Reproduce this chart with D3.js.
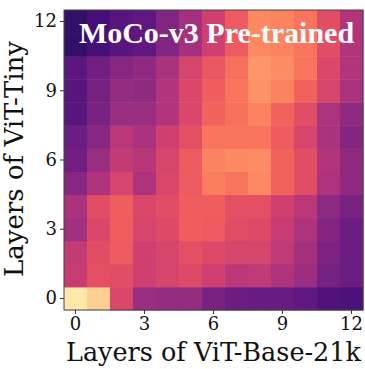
<!DOCTYPE html>
<html>
<head>
<meta charset="utf-8">
<script src="https://cdn.jsdelivr.net/npm/d3@7"></script>
<style>
  body { margin: 0; background: #fff; }
  svg { display: block; }
</style>
</head>
<body>
<div id="chart"></div>
<script>
// layer indices
var baseLayers = d3.range(13)   // ViT-Base-21k, x
var tinyLayers = d3.range(13)   // ViT-Tiny, y
var tickLabels = [0, 3, 6, 9, 12]
var title = "MoCo-v3 Pre-trained"

// similarity, one row per ViT-Tiny layer (row 0 first), columns = ViT-Base layers
var cka = [
    [0.95, 0.90, 0.59, 0.43, 0.42, 0.42, 0.35, 0.32, 0.31, 0.31, 0.29, 0.25, 0.24],
    [0.54, 0.62, 0.61, 0.56, 0.58, 0.60, 0.56, 0.51, 0.52, 0.48, 0.44, 0.34, 0.32],
    [0.53, 0.61, 0.65, 0.56, 0.58, 0.62, 0.60, 0.58, 0.58, 0.52, 0.46, 0.36, 0.32],
    [0.45, 0.59, 0.66, 0.58, 0.60, 0.66, 0.65, 0.61, 0.60, 0.54, 0.48, 0.38, 0.32],
    [0.47, 0.61, 0.66, 0.59, 0.61, 0.66, 0.66, 0.62, 0.62, 0.56, 0.51, 0.40, 0.35],
    [0.39, 0.48, 0.58, 0.48, 0.59, 0.65, 0.73, 0.71, 0.75, 0.67, 0.61, 0.48, 0.41],
    [0.33, 0.43, 0.53, 0.50, 0.58, 0.65, 0.74, 0.75, 0.76, 0.67, 0.61, 0.49, 0.41],
    [0.32, 0.39, 0.51, 0.47, 0.56, 0.62, 0.71, 0.71, 0.71, 0.65, 0.58, 0.47, 0.38],
    [0.27, 0.35, 0.43, 0.43, 0.49, 0.59, 0.67, 0.70, 0.74, 0.67, 0.61, 0.48, 0.41],
    [0.27, 0.34, 0.42, 0.41, 0.49, 0.59, 0.66, 0.71, 0.77, 0.74, 0.67, 0.58, 0.47],
    [0.28, 0.33, 0.39, 0.41, 0.47, 0.58, 0.64, 0.70, 0.78, 0.76, 0.71, 0.59, 0.49],
    [0.18, 0.23, 0.27, 0.29, 0.37, 0.46, 0.56, 0.65, 0.75, 0.74, 0.71, 0.61, 0.49],
    [0.18, 0.23, 0.27, 0.29, 0.37, 0.46, 0.56, 0.65, 0.75, 0.74, 0.71, 0.61, 0.49],
]

var W = 365, H = 369
var margin = { left: 64, top: 10, right: 2, bottom: 59 }
var pw = W - margin.left - margin.right
var ph = H - margin.top - margin.bottom

var svg = d3.select("#chart").append("svg")
    .attr("width", W)
    .attr("height", H)

var g = svg.append("g")
    .attr("transform", "translate(" + margin.left + "," + margin.top + ")")

var x = d3.scaleBand().domain(baseLayers).range([0, pw])
var y = d3.scaleBand().domain(tinyLayers).range([ph, 0])
var color = d3.scaleSequential(d3.interpolateMagma).domain([0, 1])

var cells = []
cka.forEach((row, i) => {
    row.forEach((v, j) => cells.push({ tiny: tinyLayers[i], base: baseLayers[j], v: v }))
})

g.selectAll(".cell")
    .data(cells)
    .enter()
    .append("rect")
    .attr("class", "cell")
    .attr("x", d => x(d.base))
    .attr("y", d => y(d.tiny))
    .attr("width", x.bandwidth() + 0.5)
    .attr("height", y.bandwidth() + 0.5)
    .attr("fill", d => color(d.v))

// frame
g.append("rect")
    .attr("x", 0)
    .attr("y", 0)
    .attr("width", pw)
    .attr("height", ph)
    .attr("fill", "none")
    .attr("stroke", "#444")
    .attr("stroke-width", 1)

var xAxis = g.append("g")
    .attr("transform", "translate(0," + ph + ")")
    .call(d3.axisBottom(x).tickValues(tickLabels).tickSize(4).tickPadding(3))
var yAxis = g.append("g")
    .call(d3.axisLeft(y).tickValues(tickLabels).tickSize(4).tickPadding(3))

;[xAxis, yAxis].forEach(ax => {
    ax.select(".domain").remove()
    ax.selectAll("line").attr("stroke", "#333")
    ax.selectAll("text")
        .attr("fill", "#111")
        .style("font-family", "DejaVu Serif")
        .style("font-size", "18px")
})

svg.append("text")
    .attr("x", margin.left + pw / 2)
    .attr("y", 361)
    .attr("text-anchor", "middle")
    .style("font-family", "DejaVu Serif")
    .style("font-size", "25.5px")
    .attr("fill", "#111")
    .text("Layers of ViT-Base-21k")

svg.append("text")
    .attr("transform", "translate(23," + (margin.top + ph / 2 - 1) + ") rotate(-90)")
    .attr("text-anchor", "middle")
    .style("font-family", "DejaVu Serif")
    .style("font-size", "26px")
    .attr("fill", "#111")
    .text("Layers of ViT-Tiny")

g.append("text")
    .attr("x", pw / 2 + 3)
    .attr("y", 33)
    .attr("text-anchor", "middle")
    .style("font-family", "Liberation Serif")
    .style("font-weight", "bold")
    .style("font-size", "30px")
    .attr("fill", "#fff")
    .text(title)
</script>
</body>
</html>
